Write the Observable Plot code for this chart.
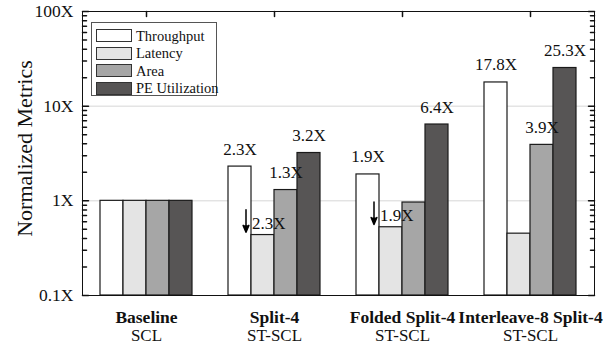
<!DOCTYPE html>
<html>
<head>
<meta charset="utf-8">
<script src="https://cdn.jsdelivr.net/npm/d3@7"></script>
<script src="https://cdn.jsdelivr.net/npm/@observablehq/plot@0.6"></script>
<style>
  html, body { margin: 0; padding: 0; background: #fff; }
  #wrap { position: relative; width: 608px; height: 345px; font-family: 'Liberation Serif'; }
  #wrap svg text { font-family: 'Liberation Serif'; }
  #legend { position: absolute; left: 91px; top: 22px; width: 126px; height: 74px; border: 1px solid #555; background: #fff; box-sizing: border-box; padding: 4px 0 0 4px; }
  .row { display: flex; align-items: center; height: 17.5px; }
  .sw { width: 34px; height: 11px; border: 1.5px solid #333; margin-right: 4px; box-sizing: content-box; flex: none; }
  .lab { font-family: 'Liberation Serif'; font-size: 14.5px; color: #111; line-height: 1; white-space: nowrap; }
</style>
</head>
<body>
<div id="wrap"></div>
<script>
// ---- data ----
const groups = ["Baseline", "Split-4", "Folded Split-4", "Interleave-8 Split-4"];
const subLabels = ["SCL", "ST-SCL", "ST-SCL", "ST-SCL"];
const metrics = ["Throughput", "Latency", "Area", "PE Utilization"];
const colors = ["#ffffff", "#e4e4e4", "#a6a6a6", "#575555"];
const throughput = [1, 2.3, 1.9, 17.8];
const latency = [1, 0.435, 0.526, 0.45];
const area = [1, 1.3, 0.96, 3.9];
const peUtil = [1, 3.2, 6.4, 25.3];
const throughputLabels = ["", "2.3X", "1.9X", "17.8X"];
const areaLabels = ["", "1.3X", "", "3.9X"];
const peLabels = ["", "3.2X", "6.4X", "25.3X"];
const latencyLabels = ["", "2.3X", "1.9X", ""];
const yDomain = [0.1, 100];
const yTicks = [0.1, 1, 10, 100];
const yTickLabels = ["0.1X", "1X", "10X", "100X"];
const yMinor = [0.2,0.3,0.4,0.5,0.6,0.7,0.8,0.9,2,3,4,5,6,7,8,9,20,30,40,50,60,70,80,90];

// ---- table ----
const series = [throughput, latency, area, peUtil];
const seriesLabels = [throughputLabels, null, areaLabels, peLabels];
const rows = [];
groups.forEach((g, gi) => {
  metrics.forEach((m, mi) => {
    rows.push({group: g, metric: m, value: series[mi][gi], label: seriesLabels[mi] ? seriesLabels[mi][gi] : ""});
  });
});
const latRows = groups.map((g, gi) => ({group: g, metric: "Latency", value: latency[gi], label: latencyLabels[gi]})).filter(d => d.label);
const groupRows = groups.map((g, i) => ({group: g, sub: subLabels[i]}));

const tickShape = {draw(context, l) { context.moveTo(0, 0); context.lineTo(0, -l); }};
const serif = "Liberation Serif";

const chart = Plot.plot({
  width: 608,
  height: 345,
  marginLeft: 82,
  marginRight: 14,
  marginTop: 11,
  marginBottom: 50,
  style: {fontFamily: serif, fontSize: "17px", color: "#111", background: "#fff"},
  fx: {domain: groups, padding: 0, axis: null},
  x: {domain: metrics, paddingInner: 0, paddingOuter: 0.75, axis: null},
  y: {type: "log", domain: yDomain, axis: null},
  color: {domain: metrics, range: colors},
  marks: [
    Plot.ruleY([1, 10], {stroke: "#d6d6d6", strokeWidth: 1}),
    Plot.barY(rows, {fx: "group", x: "metric", y1: yDomain[0], y2: "value", fill: "metric", stroke: "#1a1a1a", strokeWidth: 1.2}),
    Plot.text(rows.filter(d => d.label), {fx: "group", x: "metric", y: "value", text: "label", lineAnchor: "bottom", dy: -12, fontSize: 17, fontFamily: serif, fill: "#111"}),
    Plot.text(latRows, {fx: "group", x: "metric", y: "value", text: "label", textAnchor: "start", lineAnchor: "bottom", dx: -11, dy: -6, fontSize: 17, fontFamily: serif, fill: "#111"}),
    Plot.arrow(latRows, {fx: "group", x: "metric", y1: d => d.value * 1.85, y2: d => d.value * 1.07, dx: -17, stroke: "#000", fill: "#000", strokeWidth: 1.5, headLength: 8, headAngle: 45}),
    Plot.frame({anchor: "top", stroke: "#111"}),
    Plot.frame({anchor: "bottom", stroke: "#111"}),
    Plot.frame({anchor: "left", stroke: "#111", facetAnchor: "left"}),
    Plot.frame({anchor: "right", stroke: "#111", facetAnchor: "right"}),
    // y ticks (inward)
    Plot.vector(yTicks, {y: d => d, frameAnchor: "left", rotate: 90, length: 6, anchor: "start", shape: tickShape, stroke: "#111", facetAnchor: "left"}),
    Plot.vector(yMinor, {y: d => d, frameAnchor: "left", rotate: 90, length: 4, anchor: "start", shape: tickShape, stroke: "#111", facetAnchor: "left"}),
    Plot.vector(yTicks, {y: d => d, frameAnchor: "right", rotate: -90, length: 6, anchor: "start", shape: tickShape, stroke: "#111", facetAnchor: "right"}),
    Plot.vector(yMinor, {y: d => d, frameAnchor: "right", rotate: -90, length: 4, anchor: "start", shape: tickShape, stroke: "#111", facetAnchor: "right"}),
    // top ticks at group centres
    Plot.vector(groupRows, {fx: "group", frameAnchor: "top", rotate: 180, length: 5, anchor: "start", shape: tickShape, stroke: "#111"}),
    // y axis labels
    Plot.axisY({ticks: yTicks, tickFormat: d => yTickLabels[yTicks.indexOf(d)], tickSize: 0, tickPadding: 9, fontSize: 17.5, fontFamily: serif, label: null}),
    Plot.text(["Normalized Metrics"], {frameAnchor: "left", textAnchor: "middle", rotate: -90, dx: -58, dy: -5, fontSize: 22, fontFamily: serif, fill: "#111", facetAnchor: "left"}),
    // group labels
    Plot.text(groupRows, {fx: "group", text: "group", frameAnchor: "bottom", lineAnchor: "bottom", dy: 27, fontSize: 17.5, fontWeight: "bold", fontFamily: serif, fill: "#111"}),
    Plot.text(groupRows, {fx: "group", text: "sub", frameAnchor: "bottom", lineAnchor: "bottom", dy: 45, fontSize: 17, fontFamily: serif, fill: "#111"})
  ]
});
chart.setAttribute("font-family", serif);

const wrap = document.getElementById("wrap");
wrap.appendChild(chart);

// legend
const legend = document.createElement("div");
legend.id = "legend";
metrics.forEach((m, i) => {
  const row = document.createElement("div");
  row.className = "row";
  const sw = document.createElement("div");
  sw.className = "sw";
  sw.style.background = colors[i];
  const lab = document.createElement("span");
  lab.className = "lab";
  lab.textContent = m;
  row.appendChild(sw);
  row.appendChild(lab);
  legend.appendChild(row);
});
wrap.appendChild(legend);
</script>
</body>
</html>
